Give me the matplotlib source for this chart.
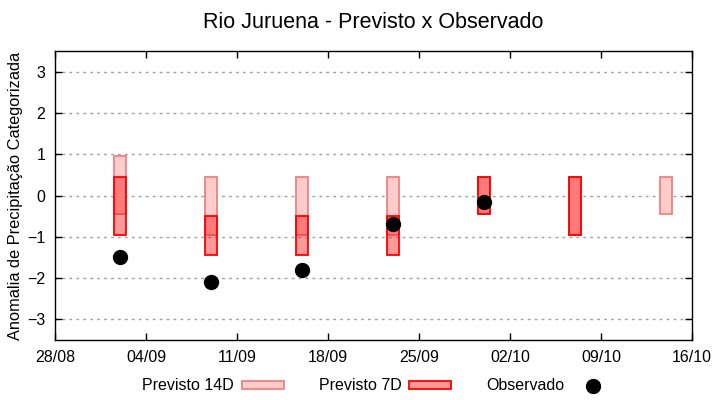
import numpy as np
import pandas as pd
import matplotlib
matplotlib.use("Agg")
import matplotlib.pyplot as plt
import matplotlib.dates as mdates

plt.rcParams['font.family'] = ['Liberation Sans', 'DejaVu Sans']

# dados
datas = ["2025-09-02", "2025-09-09", "2025-09-16", "2025-09-23",
         "2025-09-30", "2025-10-07", "2025-10-14"]
p14_inf = [-0.45, -0.95, -0.95, -0.95, -0.45, -0.95, -0.45]
p14_sup = [0.95, 0.45, 0.45, 0.45, 0.45, 0.45, 0.45]
p7_inf = [-0.95, -1.45, -1.45, -1.45, -0.45, -0.95, np.nan]
p7_sup = [0.45, -0.5, -0.5, -0.5, 0.45, 0.45, np.nan]
observado = [-1.5, -2.1, -1.8, -0.68, -0.15, np.nan, np.nan]

x = pd.to_datetime(datas)
xn = mdates.date2num(x)
largura = 0.9

fig = plt.figure(figsize=(7.2, 4), dpi=100)
ax = fig.add_axes([0.0764, 0.15, 0.8847, 0.7225])

b14 = ax.bar(xn, np.array(p14_sup) - np.array(p14_inf), bottom=p14_inf, width=largura,
             color='#ffcccc', edgecolor='#f08080', linewidth=1.3, label='Previsto 14D', zorder=2)
b7 = ax.bar(xn, np.array(p7_sup) - np.array(p7_inf), bottom=p7_inf, width=largura,
            color=(1, 0, 0, 0.4), edgecolor='#ff0000', linewidth=1.3, label='Previsto 7D', zorder=3)
obs, = ax.plot(xn, observado, 'o', color='black', markersize=10, label='Observado', zorder=4)

ax.set_xlim(mdates.date2num(pd.Timestamp("2025-08-28")), mdates.date2num(pd.Timestamp("2025-10-16")))
ax.set_ylim(-3.5, 3.5)
ax.set_yticks([-3, -2, -1, 0, 1, 2, 3])
ticks = pd.date_range("2025-08-28", "2025-10-16", freq="7D")
ax.set_xticks(mdates.date2num(ticks))
ax.set_xticklabels([t.strftime("%d/%m") for t in ticks])
ax.tick_params(direction='in', top=True, right=True, length=5, labelsize=11.5, width=1, pad=7)
ax.grid(axis='y', linestyle=(0, (2, 3)), color='#a0a0a0', linewidth=1)
for s in ax.spines.values():
    s.set_linewidth(1)

ax.set_ylabel('Anomalia de Precipitação Categorizada', fontsize=11.8, labelpad=3)
fig.suptitle('Rio Juruena - Previsto x Observado', fontsize=15.5, x=0.519, y=0.97)

fig.legend(handles=[b14, b7, obs], loc='center', bbox_to_anchor=(0.525, 0.035), ncol=3,
           frameon=False, fontsize=11.5, markerfirst=False, handlelength=2.6,
           handleheight=0.45, columnspacing=2.2, handletextpad=0.5)

fig.savefig('out.png', dpi=100)
